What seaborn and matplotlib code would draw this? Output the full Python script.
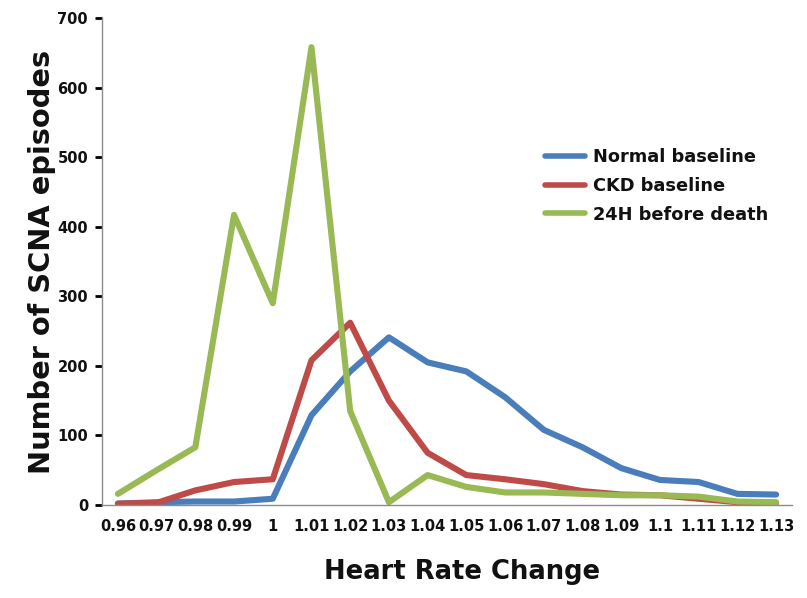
import matplotlib
matplotlib.use("Agg")
import matplotlib.pyplot as plt
import seaborn as sns
import pandas as pd
import numpy as np

# Heart rate change categories
hr_change = ["0.96", "0.97", "0.98", "0.99", "1", "1.01", "1.02", "1.03", "1.04",
             "1.05", "1.06", "1.07", "1.08", "1.09", "1.1", "1.11", "1.12", "1.13"]

# Number of SCNA episodes per group
normal_baseline = [2, 4, 5, 5, 9, 129, 192, 241, 205, 192, 155, 108, 83, 53, 36, 33, 16, 15]
ckd_baseline = [2, 3, 21, 33, 37, 208, 262, 150, 75, 43, 37, 30, 20, 15, 14, 9, 4, 3]
before_death = [16, 50, 83, 417, 290, 658, 135, 4, 43, 26, 18, 18, 16, 14, 14, 12, 5, 4]

series_names = ["Normal baseline", "CKD baseline", "24H before death"]
series_values = [normal_baseline, ckd_baseline, before_death]
colors = ["#4a7ebb", "#be4b48", "#98b954"]

frames = []
for name, vals in zip(series_names, series_values):
    frames.append(pd.DataFrame({"pos": np.arange(len(hr_change)),
                                "episodes": vals, "group": name}))
df = pd.concat(frames, ignore_index=True)

sns.set_style("white")
plt.rcParams["font.family"] = ["DejaVu Sans"]

fig = plt.figure(figsize=(8.07, 5.98), dpi=100)
ax = fig.add_axes([102 / 807, 1 - 505 / 598, 690 / 807, 487 / 598])

sns.lineplot(data=df, x="pos", y="episodes", hue="group", hue_order=series_names,
             palette=colors, linewidth=4.4, ax=ax, sort=False)

ax.set_xlim(-0.41, len(hr_change) - 1 + 0.41)
ax.set_ylim(0, 700)
ax.set_xticks(np.arange(len(hr_change)))
ax.set_xticklabels(hr_change)
ax.set_yticks(np.arange(0, 701, 100))

for lbl in ax.get_xticklabels() + ax.get_yticklabels():
    lbl.set_fontweight("bold")
    lbl.set_fontsize(10.5)
    lbl.set_color("#111111")

ax.tick_params(axis="x", length=0, pad=10)
ax.tick_params(axis="y", length=5, width=2, color="black", pad=5, left=True)

for side in ["top", "right"]:
    ax.spines[side].set_visible(False)
for side in ["left", "bottom"]:
    ax.spines[side].set_color("#8c8c8c")
    ax.spines[side].set_linewidth(1.0)

ax.set_xlabel("Heart Rate Change", fontsize=18.6, fontweight="bold", color="#111111")
ax.xaxis.set_label_coords(0.522, -0.110)

ax.set_ylabel("Number of SCNA episodes", fontsize=20.8, fontweight="bold",
              color="#111111")
ax.yaxis.set_label_coords(-0.066, 0.5)

leg = ax.legend(loc="center left", bbox_to_anchor=(545 / 807, 1 - 186 / 598),
                bbox_transform=fig.transFigure, frameon=False, borderpad=0,
                borderaxespad=0, handlelength=2.25, handletextpad=0.45,
                labelspacing=0.6, prop={"weight": "bold", "size": 12.8})
for line in leg.get_lines():
    line.set_linewidth(4)
for t in leg.get_texts():
    t.set_color("#111111")

fig.savefig("out.png", dpi=100, facecolor="white")
